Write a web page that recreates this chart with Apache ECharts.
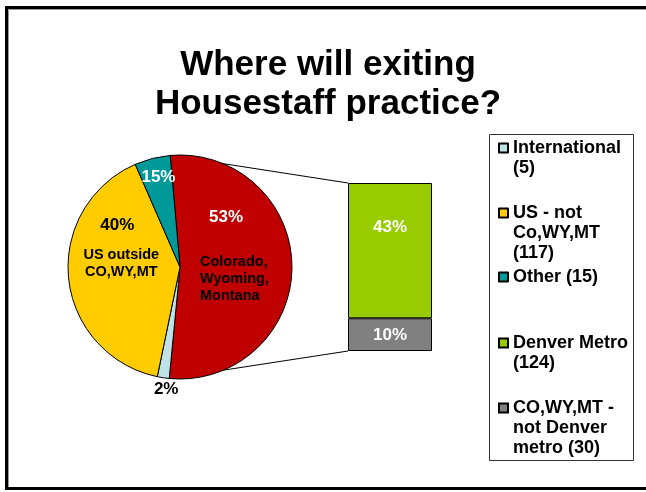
<!DOCTYPE html>
<html><head><meta charset="utf-8">
<script src="https://cdn.jsdelivr.net/npm/echarts@6/dist/echarts.min.js"></script>
<style>html,body{margin:0;padding:0;background:#fff}#c{width:646px;height:492px}</style>
</head><body><div id="c"></div>
<script>
// ---------- data ----------
const pieNames = ['Colorado, Wyoming, Montana', 'International\n(5)', 'US - not\nCo,WY,MT\n(117)', 'Other (15)'];
const pieValues = [154, 5, 117, 15];
const piePctLabels = ['53%', '2%', '40%', '15%'];
const pieTextLabels = ['Colorado,\nWyoming,\nMontana', '', 'US outside\nCO,WY,MT', ''];
const barNames = ['CO,WY,MT -\nnot Denver\nmetro (30)', 'Denver Metro\n(124)'];
const barValues = [30, 124];
const barPctLabels = ['10%', '43%'];
const legendOrder = ['International\n(5)', 'US - not\nCo,WY,MT\n(117)', 'Other (15)', 'Denver Metro\n(124)', 'CO,WY,MT -\nnot Denver\nmetro (30)'];
const titleText = 'Where will exiting\nHousestaff practice?';

// ---------- styles / layout ----------
const FONT = "'Liberation Sans', Arial, sans-serif";
const pieColors = ['#C00000', '#BFE2E6', '#FFCC00', '#009999'];
const barColors = ['#808080', '#99CC00'];
const pctColors = ['#fff', '#000', '#000', '#fff'];
const pctShift = [[-13, -50], [-5, 64], [-4, -48], [-7, -33]];
const textShift = [[-39, 12], [0, 0], [0, -10], [0, 0]];
const textAlignArr = ['left', 'center', 'center', 'center'];
const barShift = [[0, 1], [0, -23]];
const PIE_C = [180, 267], PIE_R = 112, START = 95;
const BAR = {left: 348, top: 183, width: 84, height: 168};
const legendIconCenters = [148, 213, 277, 343, 408];
const LH = 20;

const chart = echarts.init(document.getElementById('c'), null, {renderer: 'canvas'});

const total = pieValues.reduce((a, b) => a + b, 0);
const barTotal = barValues.reduce((a, b) => a + b, 0);

function pt(angDeg) {
  const a = angDeg * Math.PI / 180;
  return [PIE_C[0] + PIE_R * Math.cos(a), PIE_C[1] - PIE_R * Math.sin(a)];
}
const redStart = pt(START);
const redEnd = pt(START - 360 * pieValues[0] / total);

const legends = legendOrder.map((name, i) => {
  const n = name.split('\n').length;
  return {
    data: [{name: name, icon: 'rect'}],
    orient: 'vertical', left: 498, top: legendIconCenters[i] - (2 * n - 1) * LH / 2,
    padding: 0, itemWidth: 9, itemHeight: 9, itemGap: 0, selectedMode: false,
    formatter: nm => '\n'.repeat(n - 1) + nm,
    textStyle: {fontFamily: FONT, fontSize: 18, fontWeight: 'bold', color: '#000', lineHeight: LH}
  };
});

const pieData = pieNames.map((n, i) => ({name: n, value: pieValues[i],
  itemStyle: {color: pieColors[i]}, label: {color: pctColors[i]}}));

const option = {
  animation: false,
  backgroundColor: '#fff',
  legend: legends,
  grid: {left: BAR.left, top: BAR.top, width: BAR.width, height: BAR.height},
  xAxis: {type: 'category', data: [''], show: false},
  yAxis: {type: 'value', min: 0, max: barTotal, show: false},
  graphic: [
    {type: 'polyline', z: 0, shape: {points: [[700, 7.5], [6.5, 7.5], [6.5, 488.5], [700, 488.5]]},
      style: {stroke: '#000', lineWidth: 3, fill: null}},
    {type: 'polyline', z: 0, shape: {points: [[700, 9.5], [8.5, 9.5], [8.5, 487]]},
      style: {stroke: '#999', lineWidth: 1, fill: null}},
    {type: 'rect', z: 0, shape: {x: 489.5, y: 134.5, width: 144, height: 326},
      style: {stroke: '#333', lineWidth: 1, fill: '#fff'}},
    {type: 'line', z: 0, shape: {x1: redStart[0], y1: redStart[1], x2: BAR.left, y2: BAR.top},
      style: {stroke: '#000', lineWidth: 1}},
    {type: 'line', z: 0, shape: {x1: redEnd[0], y1: redEnd[1], x2: BAR.left, y2: BAR.top + BAR.height},
      style: {stroke: '#000', lineWidth: 1}},
    {type: 'text', z: 10, x: 328, y: 46,
      style: {text: titleText, textAlign: 'center', textVerticalAlign: 'top',
        font: "bold 35px 'Liberation Sans', Arial, sans-serif", fill: '#000', lineHeight: 39}}
  ],
  series: [
    {
      type: 'pie', center: PIE_C, radius: PIE_R, startAngle: START, clockwise: true,
      data: pieData, z: 3,
      itemStyle: {borderColor: '#000', borderWidth: 1},
      label: {
        position: 'inside', fontFamily: FONT, fontSize: 17, fontWeight: 'bold',
        formatter: p => piePctLabels[p.dataIndex]
      },
      labelLayout: p => ({dx: pctShift[p.dataIndex][0], dy: pctShift[p.dataIndex][1]}),
      labelLine: {show: false},
      emphasis: {disabled: true}
    },
    {
      type: 'pie', center: PIE_C, radius: PIE_R, startAngle: START, clockwise: true, silent: true, z: 4,
      data: pieNames.map((n, i) => ({name: n, value: pieValues[i],
        itemStyle: {color: 'rgba(0,0,0,0)', borderWidth: 0}})),
      label: {
        position: 'inside', fontFamily: FONT, fontSize: 14.5, fontWeight: 'bold', color: '#000', lineHeight: 17,
        formatter: p => pieTextLabels[p.dataIndex]
      },
      labelLayout: p => ({dx: textShift[p.dataIndex][0], dy: textShift[p.dataIndex][1], align: textAlignArr[p.dataIndex]}),
      labelLine: {show: false},
      emphasis: {disabled: true}
    }
  ].concat(barNames.map((n, i) => ({
    type: 'bar', name: n, stack: 'b', barWidth: '100%', data: [barValues[i]], z: 3,
    itemStyle: {color: barColors[i], borderColor: '#000', borderWidth: 1},
    label: {show: true, position: 'inside', formatter: () => barPctLabels[i],
      fontFamily: FONT, fontSize: 17, fontWeight: 'bold', color: '#fff'},
    labelLayout: () => ({dx: barShift[i][0], dy: barShift[i][1]}),
    emphasis: {disabled: true}
  })))
};
chart.setOption(option);
</script>
</body></html>
